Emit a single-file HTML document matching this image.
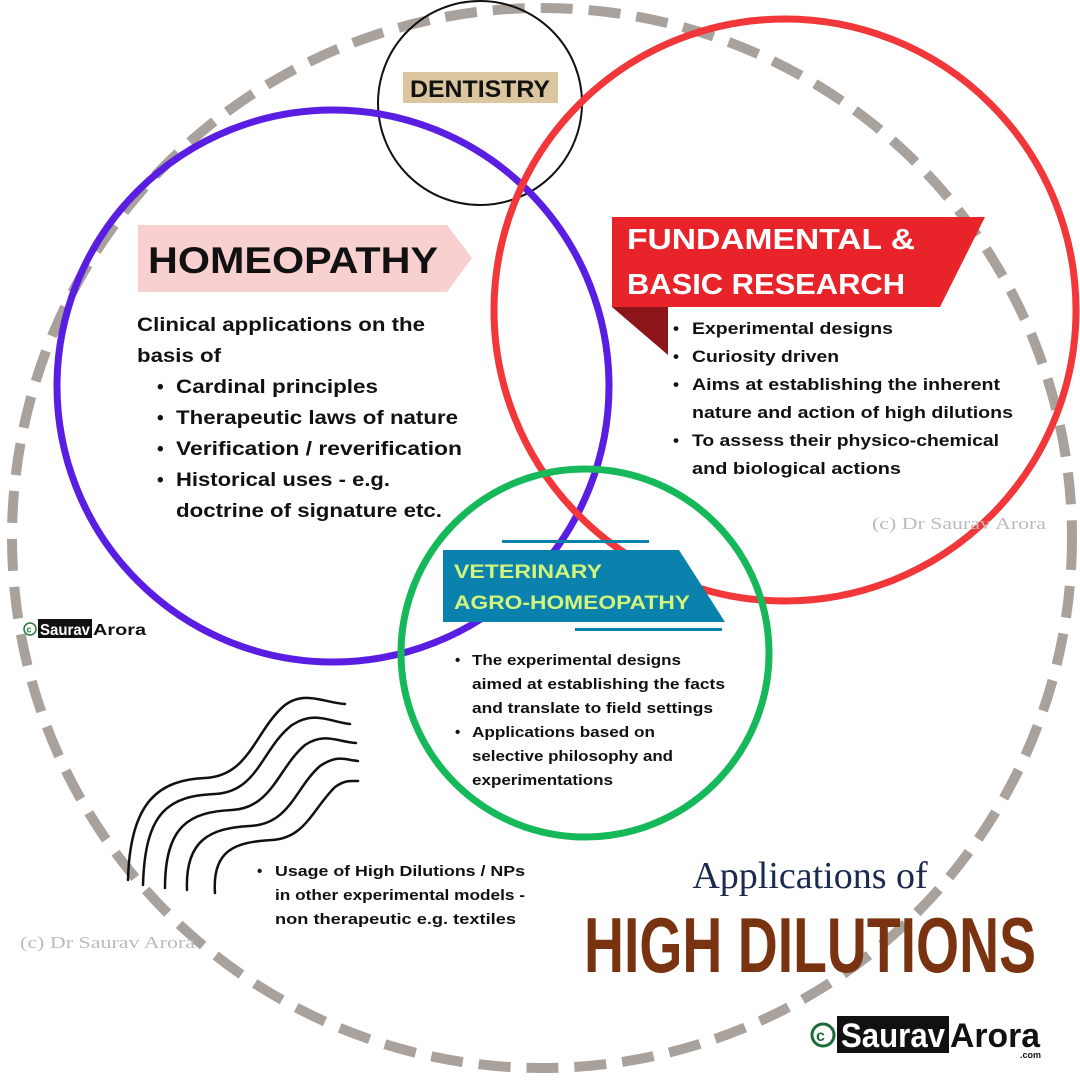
<!DOCTYPE html>
<html><head><meta charset="utf-8"><style>
html,body{margin:0;padding:0;background:#fff;}
svg{display:block;}
text{font-family:"Liberation Sans",sans-serif;font-weight:bold;}
.s{font-family:"Liberation Serif",serif;font-weight:normal;}
</style></head><body>
<svg width="1080" height="1080" viewBox="0 0 1080 1080" xmlns="http://www.w3.org/2000/svg">
<rect width="1080" height="1080" fill="#fff"/>
<circle cx="542" cy="538" r="530" fill="none" stroke="#a9a19c" stroke-width="10" stroke-dasharray="32 16"/>
<g fill="none" stroke="#111" stroke-width="2.5" stroke-linecap="round">
<path d="M128 880 C130 800 160 780 205 778 C250 776 255 730 285 705 C305 690 325 703 345 704"/>
<path d="M143 885 C145 810 170 796 215 794 C258 792 262 748 292 725 C315 710 330 722 350 724"/>
<path d="M165 888 C165 825 190 812 232 810 C272 808 278 768 305 745 C325 732 338 742 356 743"/>
<path d="M187 890 C185 840 210 828 250 826 C290 824 295 788 320 766 C338 754 345 760 358 761"/>
<path d="M215 893 C212 850 235 842 272 840 C305 838 312 810 335 787 C345 780 350 781 358 781"/>
</g>
<circle cx="480" cy="103" r="102" fill="none" stroke="#111" stroke-width="2"/>
<rect x="403" y="72" width="155" height="31" fill="#dcc69f"/>
<text x="410" y="97" font-size="24" fill="#111" textLength="140" lengthAdjust="spacingAndGlyphs">DENTISTRY</text>
<circle cx="333" cy="386" r="276" fill="none" stroke="#5a1ee3" stroke-width="7"/>
<circle cx="785" cy="310" r="291" fill="none" stroke="#f2373a" stroke-width="7"/>
<circle cx="585" cy="653" r="184" fill="none" stroke="#16b95a" stroke-width="7"/>
<polygon points="138,225 447,225 472,258 447,292 138,292" fill="#f8d0d0"/>
<text x="148" y="273" font-size="37" fill="#111" textLength="290" lengthAdjust="spacingAndGlyphs">HOMEOPATHY</text>
<g font-size="19" fill="#111">
<text x="137" y="331" textLength="288" lengthAdjust="spacingAndGlyphs">Clinical applications on the</text>
<text x="137" y="362" textLength="84" lengthAdjust="spacingAndGlyphs">basis of</text>
<text x="157" y="393">•</text><text x="176" y="393" textLength="202" lengthAdjust="spacingAndGlyphs">Cardinal principles</text>
<text x="157" y="424">•</text><text x="176" y="424" textLength="282" lengthAdjust="spacingAndGlyphs">Therapeutic laws of nature</text>
<text x="157" y="455">•</text><text x="176" y="455" textLength="286" lengthAdjust="spacingAndGlyphs">Verification / reverification</text>
<text x="157" y="486">•</text><text x="176" y="486" textLength="214" lengthAdjust="spacingAndGlyphs">Historical uses - e.g.</text>
<text x="176" y="517" textLength="266" lengthAdjust="spacingAndGlyphs">doctrine of signature etc.</text>
</g>
<polygon points="612,307 668,307 668,355" fill="#8c1519"/>
<polygon points="612,217 985,217 940,307 612,307" fill="#e8232a"/>
<text x="627" y="249" font-size="29" fill="#fff" textLength="288" lengthAdjust="spacingAndGlyphs">FUNDAMENTAL &amp;</text>
<text x="627" y="294" font-size="29" fill="#fff" textLength="278" lengthAdjust="spacingAndGlyphs">BASIC RESEARCH</text>
<g font-size="17" fill="#111">
<text x="673" y="334">•</text><text x="692" y="334" textLength="201" lengthAdjust="spacingAndGlyphs">Experimental designs</text>
<text x="673" y="362">•</text><text x="692" y="362" textLength="147" lengthAdjust="spacingAndGlyphs">Curiosity driven</text>
<text x="673" y="390">•</text><text x="692" y="390" textLength="308" lengthAdjust="spacingAndGlyphs">Aims at establishing the inherent</text>
<text x="692" y="418" textLength="321" lengthAdjust="spacingAndGlyphs">nature and action of high dilutions</text>
<text x="673" y="446">•</text><text x="692" y="446" textLength="307" lengthAdjust="spacingAndGlyphs">To assess their physico-chemical</text>
<text x="692" y="474" textLength="209" lengthAdjust="spacingAndGlyphs">and biological actions</text>
</g>
<text x="872" y="529" font-size="17" class="s" fill="#bbb" textLength="174" lengthAdjust="spacingAndGlyphs">(c) Dr Saurav Arora</text>
<rect x="502" y="540" width="147" height="3" fill="#0a82ad"/>
<rect x="575" y="628" width="147" height="3" fill="#0a82ad"/>
<polygon points="443,550 679,550 725,622 443,622" fill="#0a82ad"/>
<text x="454" y="578" font-size="19" fill="#d4f57c" textLength="148" lengthAdjust="spacingAndGlyphs">VETERINARY</text>
<text x="454" y="609" font-size="19" fill="#d4f57c" textLength="236" lengthAdjust="spacingAndGlyphs">AGRO-HOMEOPATHY</text>
<g font-size="15" fill="#111">
<text x="455" y="665">•</text><text x="472" y="665" textLength="209" lengthAdjust="spacingAndGlyphs">The experimental designs</text>
<text x="472" y="689" textLength="253" lengthAdjust="spacingAndGlyphs">aimed at establishing the facts</text>
<text x="472" y="713" textLength="241" lengthAdjust="spacingAndGlyphs">and translate to field settings</text>
<text x="455" y="737">•</text><text x="472" y="737" textLength="183" lengthAdjust="spacingAndGlyphs">Applications based on</text>
<text x="472" y="761" textLength="201" lengthAdjust="spacingAndGlyphs">selective philosophy and</text>
<text x="472" y="785" textLength="141" lengthAdjust="spacingAndGlyphs">experimentations</text>
</g>
<g font-size="15" fill="#111">
<text x="257" y="876">•</text><text x="275" y="876" textLength="250" lengthAdjust="spacingAndGlyphs">Usage of High Dilutions / NPs</text>
<text x="275" y="900" textLength="250" lengthAdjust="spacingAndGlyphs">in other experimental models -</text>
<text x="275" y="924" textLength="241" lengthAdjust="spacingAndGlyphs">non therapeutic e.g. textiles</text>
</g>
<text x="20" y="948" font-size="17" class="s" fill="#bbb" textLength="175" lengthAdjust="spacingAndGlyphs">(c) Dr Saurav Arora</text>
<circle cx="30" cy="629" r="6" fill="none" stroke="#2a7a3a" stroke-width="1.5"/>
<text x="26.5" y="632.5" font-size="9" fill="#2a7a3a">c</text>
<rect x="38" y="619" width="54" height="19" fill="#111"/>
<text x="40" y="635" font-size="16" fill="#fff" textLength="50" lengthAdjust="spacingAndGlyphs">Saurav</text>
<text x="93" y="635" font-size="16" fill="#111" textLength="53" lengthAdjust="spacingAndGlyphs">Arora</text>
<text x="810" y="888" font-size="38" text-anchor="middle" class="s" fill="#1b2a4e">Applications of</text>
<text x="584" y="972" font-size="78" fill="#7a3310" textLength="452" lengthAdjust="spacingAndGlyphs">HIGH DILUTIONS</text>
<circle cx="823" cy="1035" r="11" fill="none" stroke="#1e6b3a" stroke-width="3"/>
<text x="816" y="1041" font-size="16" fill="#1e6b3a">c</text>
<rect x="837" y="1016" width="112" height="37" fill="#111"/>
<text x="841" y="1047" font-size="34" fill="#fff" textLength="104" lengthAdjust="spacingAndGlyphs">Saurav</text>
<text x="950" y="1047" font-size="34" fill="#111" textLength="90" lengthAdjust="spacingAndGlyphs">Arora</text>
<text x="1020" y="1058" font-size="9" font-weight="normal" fill="#111">.com</text>
</svg>
</body></html>
